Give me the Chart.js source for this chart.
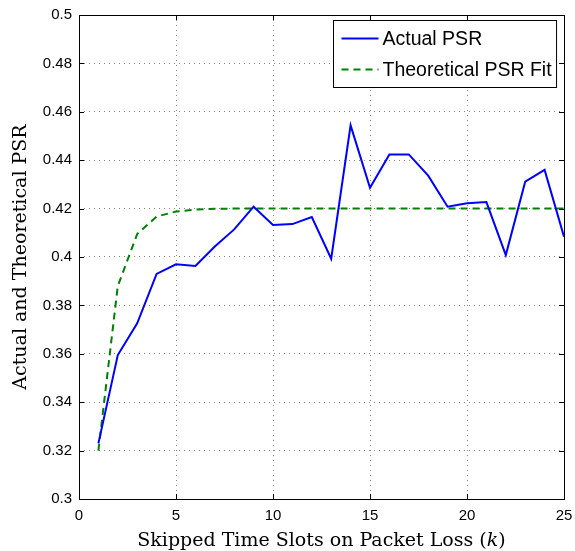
<!DOCTYPE html>
<html>
<head>
<meta charset="utf-8">
<script src="https://cdn.jsdelivr.net/npm/chart.js@4.4.1/dist/chart.umd.min.js"></script>
<style>
  html, body { margin: 0; padding: 0; background: #fff; }
</style>
</head>
<body>
<canvas id="psrChart" width="575" height="551"></canvas>
<script>
// skipped time slots k
const slots = [1, 2, 3, 4, 5, 6, 7, 8, 9, 10, 11, 12, 13, 14, 15, 16, 17, 18, 19, 20, 21, 22, 23, 24, 25];

// measured PSR
const actualPsr = [0.323, 0.3595, 0.3726, 0.393, 0.397, 0.3963, 0.4043, 0.4114, 0.4208, 0.4132,
    0.4136, 0.4165, 0.3993, 0.4544, 0.4286, 0.4424, 0.4424, 0.4336, 0.4208, 0.4222,
    0.4227, 0.4008, 0.4311, 0.436, 0.4084];

// fitted curve
const theoreticalPsr = [0.32, 0.388, 0.4095, 0.4167, 0.4188, 0.4196, 0.4199, 0.42, 0.42, 0.42,
    0.42, 0.42, 0.42, 0.42, 0.42, 0.42, 0.42, 0.42, 0.42, 0.42,
    0.42, 0.42, 0.42, 0.42, 0.42];

const xTicks = [0, 5, 10, 15, 20, 25];

const tickFont = { family: "'Liberation Sans', Arial, sans-serif", size: 15 };
const serifFont = "'DejaVu Serif', serif";

// matlab style box, inward ticks, legend and x label
const framePlugin = {
    id: 'frame',
    afterDatasetsDraw(chart) {
        const { ctx, chartArea, scales } = chart;
        const { left, right, top, bottom } = chartArea;
        ctx.save();
        ctx.strokeStyle = '#000';
        ctx.lineWidth = 1;
        ctx.setLineDash([]);
        ctx.strokeRect(left + 0.5, top + 0.5, right - left, bottom - top);

        ctx.beginPath();
        scales.x.ticks.forEach(t => {
            const x = Math.round(scales.x.getPixelForValue(t.value)) + 0.5;
            ctx.moveTo(x, bottom); ctx.lineTo(x, bottom - 5);
            ctx.moveTo(x, top); ctx.lineTo(x, top + 5);
        });
        scales.y.ticks.forEach(t => {
            const y = Math.round(scales.y.getPixelForValue(t.value)) + 0.5;
            ctx.moveTo(left, y); ctx.lineTo(left + 5, y);
            ctx.moveTo(right, y); ctx.lineTo(right - 5, y);
        });
        ctx.stroke();
        ctx.restore();
    },
    afterDraw(chart) {
        const { ctx, chartArea } = chart;
        ctx.save();

        // legend box
        ctx.font = "19.5px 'Liberation Sans', Arial, sans-serif";
        const sets = chart.data.datasets;
        const textW = Math.max(...sets.map(d => ctx.measureText(d.label).width));
        const boxW = 8 + 37 + 4 + textW + 5;
        const boxH = 67;
        const bx = Math.round(chartArea.right - 8 - boxW) + 0.5;
        const by = chartArea.top + 5.5;
        ctx.fillStyle = '#fff';
        ctx.fillRect(bx, by, boxW, boxH);
        ctx.strokeStyle = '#000';
        ctx.lineWidth = 1;
        ctx.strokeRect(bx, by, boxW, boxH);

        sets.forEach((d, i) => {
            const cy = by + 18 + i * 31;
            ctx.beginPath();
            ctx.strokeStyle = d.borderColor;
            ctx.lineWidth = d.borderWidth;
            ctx.setLineDash(d.borderDash || []);
            ctx.moveTo(bx + 8, cy);
            ctx.lineTo(bx + 45, cy);
            ctx.stroke();
            ctx.setLineDash([]);
            ctx.fillStyle = '#000';
            ctx.textBaseline = 'middle';
            ctx.textAlign = 'left';
            ctx.fillText(d.label, bx + 49, cy + 1);
        });

        // x axis label with italic k
        const parts = [
            ['Skipped Time Slots on Packet Loss (', 'normal'],
            ['k', 'italic'],
            [')', 'normal']
        ];
        let total = 0;
        parts.forEach(p => {
            ctx.font = p[1] + ' 19px ' + serifFont;
            total += ctx.measureText(p[0]).width;
        });
        let x = (chartArea.left + chartArea.right) / 2 - total / 2;
        ctx.fillStyle = '#000';
        ctx.textBaseline = 'alphabetic';
        parts.forEach(p => {
            ctx.font = p[1] + ' 19px ' + serifFont;
            ctx.fillText(p[0], x, 546);
            x += ctx.measureText(p[0]).width;
        });
        ctx.restore();
    }
};

const ctx = document.getElementById('psrChart').getContext('2d');

new Chart(ctx, {
    type: 'line',
    data: {
        datasets: [
            {
                label: 'Actual PSR',
                data: slots.map((k, i) => ({ x: k, y: actualPsr[i] })),
                borderColor: '#0000ff',
                borderWidth: 2,
                pointRadius: 0,
                tension: 0,
                fill: false
            },
            {
                label: 'Theoretical PSR Fit',
                data: slots.map((k, i) => ({ x: k, y: theoreticalPsr[i] })),
                borderColor: '#008000',
                borderWidth: 2,
                borderDash: [7, 5],
                pointRadius: 0,
                tension: 0,
                fill: false
            }
        ]
    },
    options: {
        responsive: false,
        animation: false,
        layout: { padding: { top: 15, right: 11, left: 0, bottom: 0 } },
        plugins: {
            legend: { display: false },
            tooltip: { enabled: false }
        },
        scales: {
            x: {
                type: 'linear',
                min: 0,
                max: 25,
                afterBuildTicks: scale => {
                    scale.ticks = xTicks.map(v => ({ value: v }));
                },
                afterFit: scale => {
                    scale.height = 52;
                    scale.paddingLeft = 0;
                    scale.paddingRight = 0;
                },
                grid: { color: '#888', drawTicks: false, lineWidth: 1 },
                border: { display: false, dash: [1, 4] },
                ticks: { font: tickFont, color: '#000', padding: 8, maxRotation: 0 }
            },
            y: {
                min: 0.3,
                max: 0.5,
                afterFit: scale => {
                    scale.width = 79;
                    scale.paddingTop = 0;
                    scale.paddingBottom = 0;
                },
                grid: { color: '#888', drawTicks: false, lineWidth: 1 },
                border: { display: false, dash: [1, 4] },
                ticks: {
                    stepSize: 0.02,
                    font: tickFont,
                    color: '#000',
                    padding: 7,
                    callback: v => String(+v.toFixed(2))
                },
                title: {
                    display: true,
                    text: 'Actual and Theoretical PSR',
                    font: { family: serifFont, size: 19 },
                    color: '#000',
                    padding: { top: 10, bottom: 0 }
                }
            }
        }
    },
    plugins: [framePlugin]
});
</script>
</body>
</html>
